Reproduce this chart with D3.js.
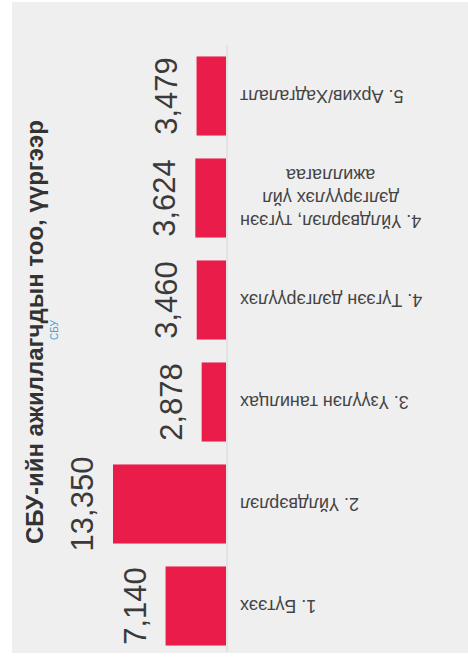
<!DOCTYPE html>
<html>
<head>
<meta charset="utf-8">
<script src="https://cdn.jsdelivr.net/npm/d3@7"></script>
<style>
  html, body { margin: 0; padding: 0; background: #ffffff; }
  svg { display: block; }
</style>
</head>
<body>
<div id="chart"></div>
<script>
// chart data
const categories = [
    "1. Бүтээх",
    "2. Үйлдвэрлэл",
    "3. Үзүүлэн танилцах",
    "4. Түгээн дэлгэрүүлэх",
    "4. Үйлдвэрлэл, түгээн дэлгэрүүлэх үйл ажиллагаа",
    "5. Архив/Хадгалалт"
];
const values = [7140, 13350, 2878, 3460, 3624, 3479];
// how each category label wraps
const labelLines = [
    ["1. Бүтээх"],
    ["2. Үйлдвэрлэл"],
    ["3. Үзүүлэн танилцах"],
    ["4. Түгээн дэлгэрүүлэх"],
    ["4. Үйлдвэрлэл, түгээн", "дэлгэрүүлэх үйл", "ажиллагаа"],
    ["5. Архив/Хадгалалт"]
];
const title = "СБУ-ийн ажиллагчдын тоо, үүргээр";
const subtitle = "СБУ";

const width = 468;
const height = 666;
// the picture is a column chart turned a quarter turn to the left,
// so it is drawn in its own upright frame (666 wide, 468 high) and then rotated
const baseY = 226;

const svg = d3.select('#chart')
    .append('svg')
    .attr('width', width)
    .attr('height', height);

// grey panel
svg.append('rect')
    .attr('x', 12)
    .attr('y', 2)
    .attr('width', width - 12)
    .attr('height', 651)
    .attr('fill', '#efefef');

const g = svg.append('g')
    .attr('transform', `translate(0,${height}) rotate(-90)`);

const x = d3.scaleBand()
    .domain(categories)
    .range([9, 621])
    .paddingInner(0.225)
    .paddingOuter(0.1125);

const y = d3.scaleLinear()
    .domain([0, 14000])
    .range([baseY, 107.5]);

// title + subtitle
g.append('text')
    .attr('x', 334)
    .attr('y', 43)
    .attr('text-anchor', 'middle')
    .style('font-family', '"Liberation Sans", Arial, sans-serif')
    .style('font-size', '24px')
    .style('font-weight', 'bold')
    .style('fill', '#333')
    .text(title);

g.append('text')
    .attr('x', 336)
    .attr('y', 58)
    .attr('text-anchor', 'middle')
    .style('font-family', '"Liberation Sans", Arial, sans-serif')
    .style('font-size', '10px')
    .style('fill', '#4a9fd5')
    .text(subtitle);

// baseline
g.append('line')
    .attr('x1', 14)
    .attr('x2', 621)
    .attr('y1', baseY + 1)
    .attr('y2', baseY + 1)
    .attr('stroke', '#d6d6d6')
    .attr('stroke-width', 1);

// bars
g.append('g')
    .selectAll('rect')
    .data(categories)
    .enter()
    .append('rect')
    .attr('x', d => x(d))
    .attr('y', (d, i) => y(values[i]))
    .attr('width', x.bandwidth())
    .attr('height', (d, i) => baseY - y(values[i]))
    .attr('fill', '#e91c4a');

// value labels
g.append('g')
    .selectAll('text')
    .data(categories)
    .enter()
    .append('text')
    .attr('x', d => x(d) + x.bandwidth() / 2)
    .attr('y', (d, i) => y(values[i]) - 20)
    .attr('text-anchor', 'middle')
    .style('font-family', '"Liberation Sans", Arial, sans-serif')
    .style('font-size', '31px')
    .style('fill', '#3a3a3a')
    .text((d, i) => d3.format(',')(values[i]));

// category labels, turned so they read upward from the axis
const lineH = 23;
const labels = g.append('g')
    .selectAll('g')
    .data(categories)
    .enter()
    .append('g')
    .attr('transform', d => `translate(${x(d) + x.bandwidth() / 2},240) rotate(-90)`);

labels.each(function(d, i) {
    const lines = labelLines[i];
    const grp = d3.select(this);
    const txt = grp.append('text')
        .style('font-family', '"Liberation Sans", Arial, sans-serif')
        .style('font-size', '18px')
        .style('fill', '#444');
    const spans = lines.map((line, k) => txt.append('tspan')
        .attr('y', (k - (lines.length - 1) / 2) * lineH)
        .attr('dy', '0.35em')
        .text(line));
    if (lines.length === 1) {
        txt.attr('text-anchor', 'end');
        spans[0].attr('x', 0);
    } else {
        const w = d3.max(spans, s => s.node().getComputedTextLength());
        txt.attr('text-anchor', 'middle');
        spans.forEach(s => s.attr('x', -w / 2));
    }
});
</script>
</body>
</html>
